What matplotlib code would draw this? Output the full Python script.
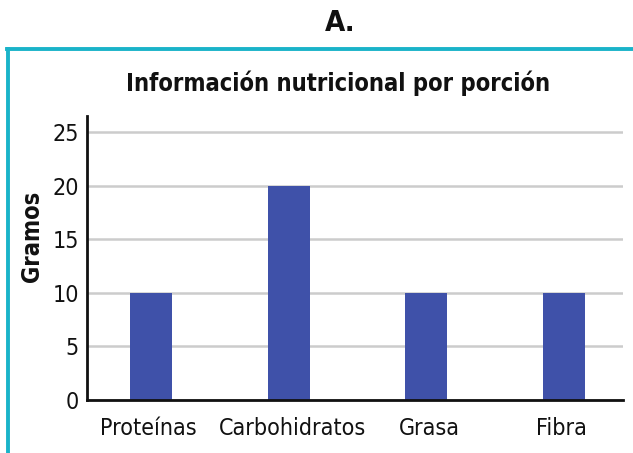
import matplotlib
matplotlib.use("Agg")
import matplotlib.pyplot as plt
import matplotlib.transforms as mtransforms
from matplotlib.lines import Line2D

categories = ["Proteínas", "Carbohidratos", "Grasa", "Fibra"]
grams = [10, 20, 10, 10]
yticks = [0, 5, 10, 15, 20, 25]

plt.rcParams['font.family'] = ['DejaVu Sans']
plt.rcParams['font.stretch'] = 'condensed'

fig = plt.figure(figsize=(6.33, 4.53), dpi=100)

# teal frame (top and left only)
frame_color = "#1AB3C9"
fig.add_artist(Line2D([0.011, 1.0], [1 - 49 / 453, 1 - 49 / 453], color=frame_color, lw=2.8,
                      transform=fig.transFigure))
fig.add_artist(Line2D([0.0127, 0.0127], [0, 1 - 49 / 453], color=frame_color, lw=2.8,
                      transform=fig.transFigure))

fig.text(0.537, 1 - 23 / 453, "A.", ha="center", va="center", fontsize=21, fontweight="bold",
         color="#111111")
fig.text(0.534, 1 - 83 / 453, "Información nutricional por porción", ha="center", va="center",
         fontsize=17, fontweight="bold", color="#111111")
fig.text(32 / 633, 1 - 236 / 453, "Gramos", ha="center", va="center", rotation=90,
         fontsize=17, fontweight="bold", color="#111111")

ax = fig.add_axes([87.3 / 633, 1 - 400 / 453, (623 - 87.3) / 633, (400 - 116) / 453])
x = range(len(categories))
ax.bar(x, grams, width=0.305, color="#3F51A9", zorder=3)
ax.set_xlim(-0.463, 3.43)
ax.set_ylim(0, 26.5)
ax.set_yticks(yticks)
ax.set_xticks(list(x))
ax.set_xticklabels(categories)
ax.tick_params(axis="both", length=0, labelsize=16.7, colors="#111111")
ax.tick_params(axis="x", pad=12)
ax.tick_params(axis="y", pad=6)
ax.yaxis.grid(True, color="#cccccc", lw=1.8, zorder=0)
ax.set_axisbelow(True)
for s in ["top", "right"]:
    ax.spines[s].set_visible(False)
for s in ["left", "bottom"]:
    ax.spines[s].set_linewidth(2)
    ax.spines[s].set_color("#111111")
    ax.spines[s].set_zorder(4)

# small horizontal nudges of the category labels, as in the original
for lab, dx in zip(ax.get_xticklabels(), [-2.5, 4, 3, -2]):
    lab.set_transform(lab.get_transform() + mtransforms.ScaledTranslation(dx / 100, 0, fig.dpi_scale_trans))

fig.savefig("out.png", dpi=100)
